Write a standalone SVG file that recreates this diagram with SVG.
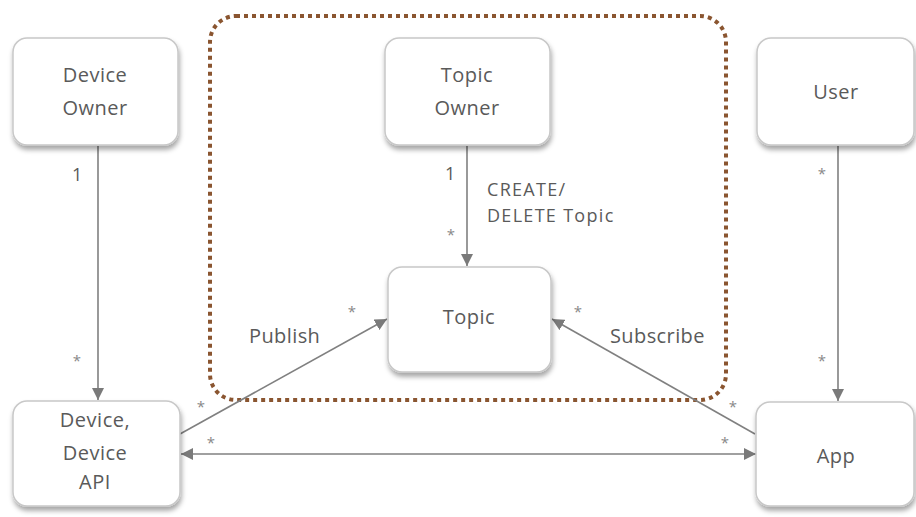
<svg xmlns="http://www.w3.org/2000/svg" width="916" height="517" viewBox="0 0 916 517">
<defs>
<filter id="sh" x="-10%" y="-10%" width="130%" height="140%">
<feDropShadow dx="1" dy="4" stdDeviation="2.5" flood-color="#000" flood-opacity="0.35"/>
</filter>
<marker id="ah" viewBox="0 0 12 12" refX="12" refY="6" markerWidth="12" markerHeight="12" markerUnits="userSpaceOnUse" orient="auto-start-reverse">
<path d="M0,0 L12,6 L0,12 Z" fill="#7a7a7a"/>
</marker>
<style>
.box{fill:#fff;stroke:#c8c8c8;stroke-width:1.5;filter:url(#sh)}
.lbl{font-family:"Open Sans","Noto Sans",sans-serif;font-size:20px;fill:#5a5a5a;text-anchor:middle;letter-spacing:0.5px}
.sm{font-family:"Open Sans","Noto Sans",sans-serif;font-size:18px;fill:#5a5a5a;letter-spacing:1.3px}
.md{font-family:"Open Sans","Noto Sans",sans-serif;font-size:20px;fill:#5a5a5a;letter-spacing:0.4px}
.st{font-family:"Open Sans","Noto Sans",sans-serif;font-size:15px;fill:#888;text-anchor:middle}
.ln{stroke:#808080;stroke-width:1.6;fill:none}
</style>
</defs>
<rect width="916" height="517" fill="#fff"/>
<rect x="210" y="16" width="516" height="384" rx="26" fill="none" stroke="#8a5530" stroke-width="4" stroke-dasharray="4 4"/>
<g id="connectors">
<line class="ln" x1="98" y1="146" x2="98" y2="400" marker-end="url(#ah)"/>
<line class="ln" x1="467" y1="146" x2="467" y2="266" marker-end="url(#ah)"/>
<line class="ln" x1="838" y1="146" x2="838" y2="401" marker-end="url(#ah)"/>
<line class="ln" x1="180" y1="434" x2="387" y2="319" marker-end="url(#ah)"/>
<line class="ln" x1="755" y1="434" x2="552" y2="319" marker-end="url(#ah)"/>
<line class="ln" x1="181" y1="454" x2="756" y2="454" marker-start="url(#ah)" marker-end="url(#ah)"/>
<text class="sm" x="72" y="181">1</text>
<text class="st" x="77" y="366">*</text>
<text class="sm" x="445" y="180">1</text>
<text class="st" x="451" y="240">*</text>
<text class="sm" x="487" y="196">CREATE/</text>
<text class="sm" x="487" y="222">DELETE Topic</text>
<text class="st" x="822" y="179">*</text>
<text class="st" x="822" y="366">*</text>
<text class="md" x="249" y="343">Publish</text>
<text class="st" x="352" y="317">*</text>
<text class="st" x="201" y="412">*</text>
<text class="st" x="211" y="448">*</text>
<text class="md" x="610" y="343">Subscribe</text>
<text class="st" x="578" y="317">*</text>
<text class="st" x="733" y="412">*</text>
<text class="st" x="725" y="448">*</text>
</g>
<g id="device-owner">
<rect class="box" x="13" y="38" width="165" height="107" rx="14"/>
<text class="lbl" x="95" y="82">Device</text>
<text class="lbl" x="95" y="115">Owner</text>
</g>
<g id="topic-owner">
<rect class="box" x="385" y="38" width="165" height="107" rx="14"/>
<text class="lbl" x="467" y="82">Topic</text>
<text class="lbl" x="467" y="115">Owner</text>
</g>
<g id="user">
<rect class="box" x="757" y="38" width="157" height="107" rx="14"/>
<text class="lbl" x="836" y="99">User</text>
</g>
<g id="topic">
<rect class="box" x="388" y="267" width="163" height="105" rx="14"/>
<text class="lbl" x="469" y="324">Topic</text>
</g>
<g id="device">
<rect class="box" x="13" y="401" width="167" height="105" rx="14"/>
<text class="lbl" x="95" y="427">Device,</text>
<text class="lbl" x="95" y="460">Device</text>
<text class="lbl" x="95" y="489">API</text>
</g>
<g id="app">
<rect class="box" x="756" y="402" width="158" height="104" rx="14"/>
<text class="lbl" x="836" y="463">App</text>
</g>
</svg>
